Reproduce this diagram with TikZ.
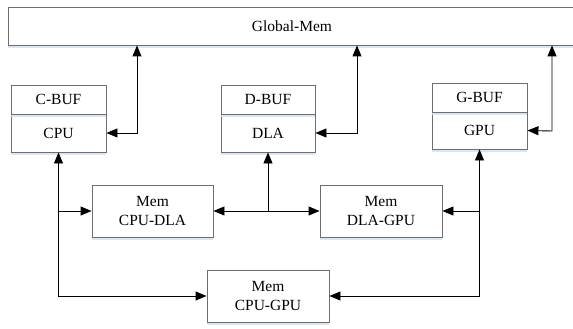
\documentclass[tikz,border=0pt]{standalone}
\usepackage{fontspec}
\setmainfont{Liberation Serif}
\usetikzlibrary{arrows.meta,shadows}
\definecolor{edgec}{HTML}{6E6E6E}
\definecolor{shadec}{HTML}{D3E0F0}
\tikzset{
  box/.style={draw=edgec, line width=0.9pt, fill=white, inner sep=0pt, align=center,
    font=\fontsize{15.5}{19}\selectfont,
    drop shadow={shadow xshift=0pt, shadow yshift=-3pt, fill=shadec, opacity=0.8}},
  tipr/.tip={Triangle[length=11pt,width=9pt]},
  conn/.style={line width=0.9pt, draw=black},
}
\begin{document}
\begin{tikzpicture}[x=1pt,y=-1pt]
\clip (0,0) rectangle (573,329);
\fill[white] (0,0) rectangle (573,329);
% global memory
\node[box, minimum width=568, minimum height=38] (gm) at (292,26) {Global-Mem};
% processors
\node[box, minimum width=95, minimum height=38] (cpu) at (58.5,133) {CPU};
\node[box, minimum width=95, minimum height=29] (cbuf) at (58.5,99.5) {C-BUF};
\node[box, minimum width=94, minimum height=38] (dla) at (268,133) {DLA};
\node[box, minimum width=94, minimum height=29] (dbuf) at (268,99.5) {D-BUF};
\node[box, minimum width=95, minimum height=37] (gpu) at (479.5,130.5) {GPU};
\node[box, minimum width=95, minimum height=29] (gbuf) at (479.5,97.5) {G-BUF};
% shared memories
\node[box, minimum width=121, minimum height=52] (cdm) at (152.5,211) {Mem\\CPU-DLA};
\node[box, minimum width=122, minimum height=52] (dgm) at (381,211) {Mem\\DLA-GPU};
\node[box, minimum width=122, minimum height=52] (cgm) at (268,296) {Mem\\CPU-GPU};
% links to global memory
\coordinate (c1) at (137,133);
\coordinate (c2) at (357,133);
\coordinate (c3) at (552,131);
\draw[conn, tipr-tipr] (gm.south -| c1) -- (c1) -- (cpu.east);
\draw[conn, tipr-tipr] (gm.south -| c2) -- (c2) -- (dla.east);
\draw[conn, tipr-tipr] (gm.south -| c3) -- (c3) -- (gpu.east);
% CPU links
\coordinate (cj) at (cpu.south |- cdm.west);
\draw[conn, tipr-tipr] (cpu.south) -- (cpu.south |- cgm.west) -- (cgm.west);
\draw[conn, -tipr] (cj) -- (cdm.west);
% DLA links
\coordinate (dj) at (dla.south |- cdm.east);
\draw[conn, -tipr] (dj) -- (dla.south);
\draw[conn, -tipr] (dj) -- (cdm.east);
\draw[conn, -tipr] (dj) -- (dgm.west);
% GPU links
\coordinate (gj) at (gpu.south |- dgm.east);
\draw[conn, tipr-tipr] (gpu.south) -- (gpu.south |- cgm.east) -- (cgm.east);
\draw[conn, -tipr] (gj) -- (dgm.east);
\end{tikzpicture}
\end{document}
